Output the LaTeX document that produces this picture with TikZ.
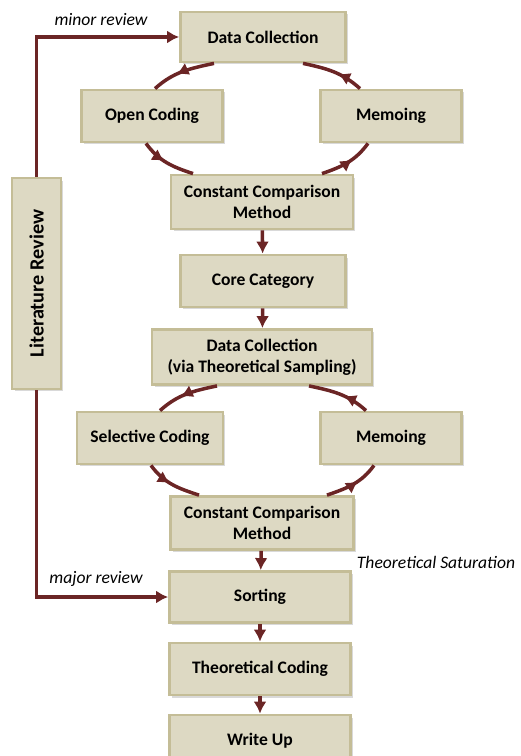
\documentclass[tikz,border=0pt]{standalone}
\usepackage{fontspec}
\setmainfont{Carlito}
\usetikzlibrary{arrows, arrows.meta}
\usetikzlibrary{calc}
\usetikzlibrary{shadows}
\usetikzlibrary{decorations.markings}
\definecolor{boxfill}{HTML}{DDD9C3}
\definecolor{boxline}{HTML}{C4BD97}
\definecolor{flow}{HTML}{6B2525}

\begin{document}
\begin{tikzpicture}[x=0.02cm, y=0.02cm,
    box/.style={rectangle, draw=boxline, line width=1.6pt, fill=boxfill, font=\bfseries, align=center, inner sep=2pt,
      drop shadow={shadow xshift=0.05cm, shadow yshift=-0.05cm, opacity=0.3}},
    flowline/.style={draw=flow, line width=2pt, -{Latex[length=2.4mm, width=2.6mm]}},
    loopline/.style={draw=flow, line width=2pt, postaction={decorate},
      decoration={markings, mark=at position #1 with {\arrow{Latex[length=2.4mm, width=2.6mm]}}}},
    loopline/.default=0.55,
    remark/.style={font=\itshape}]
    \useasboundingbox (0,0) rectangle (520,-756);

    \node[box, minimum width=3.3cm, minimum height=1cm] (dc1) at (263,-37) {Data Collection};
    \node[box, minimum width=2.82cm, minimum height=1.04cm] (oc) at (152,-116) {Open Coding};
    \node[box, minimum width=2.82cm, minimum height=1.04cm] (memo1) at (391,-116) {Memoing};
    \node[box, minimum width=3.64cm, minimum height=1.08cm] (ccm1) at (262,-202) {Constant Comparison\\Method};
    \node[box, minimum width=3.3cm, minimum height=1.04cm] (core) at (263,-281) {Core Category};
    \node[box, minimum width=4.4cm, minimum height=1.1cm] (dc2) at (262,-357) {Data Collection\\(via Theoretical Sampling)};
    \node[box, minimum width=2.92cm, minimum height=1.04cm] (sc) at (150,-438) {Selective Coding};
    \node[box, minimum width=2.82cm, minimum height=1.04cm] (memo2) at (391,-438) {Memoing};
    \node[box, minimum width=3.66cm, minimum height=1.06cm] (ccm2) at (262,-523) {Constant Comparison\\Method};
    \node[box, minimum width=3.62cm, minimum height=1.02cm] (sort) at (260,-597) {Sorting};
    \node[box, minimum width=3.62cm, minimum height=1.04cm] (tc) at (260,-669) {Theoretical Coding};
    \node[box, minimum width=3.62cm, minimum height=1.04cm] (wu) at (260,-741) {Write Up};
    \node[box, minimum width=0.98cm, minimum height=4.22cm, font=\bfseries\fontsize{11.5}{14}\selectfont] (lit) at (36.5,-283.5) {\rotatebox{90}{Literature Review}};

    \node[remark] (minor) at (101,-20) {minor review};
    \node[remark] (major) at (96,-579) {major review};
    \node[remark] (sat) at (436,-562) {Theoretical Saturation};

    % first loop
    \draw[loopline=0.6] ($(dc1.south)+(-49,0)$) to[out=192, in=42] ($(oc.north)+(3,0)$);
    \draw[loopline=0.45] ($(oc.south)+(-6,0)$) to[out=-54, in=162] ($(ccm1.north)+(-69,0)$);
    \draw[loopline=0.6] ($(ccm1.north)+(60,0)$) to[out=19, in=-126] ($(memo1.south)+(-23,0)$);
    \draw[loopline=0.42] ($(memo1.north)+(-31,0)$) to[out=138, in=-12] ($(dc1.south)+(40,0)$);

    % second loop
    \draw[loopline=0.6] ($(dc2.south)+(-45,0)$) to[out=192, in=42] ($(sc.north)+(10,0)$);
    \draw[loopline=0.45] ($(sc.south)+(1,0)$) to[out=-54, in=162] ($(ccm2.north)+(-63,0)$);
    \draw[loopline=0.6] ($(ccm2.north)+(65,0)$) to[out=19, in=-126] ($(memo2.south)+(-17,0)$);
    \draw[loopline=0.42] ($(memo2.north)+(-25,0)$) to[out=138, in=-12] ($(dc2.south)+(47,0)$);

    \draw[flowline] (ccm1) -- (core);
    \draw[flowline] (core) -- (dc2);
    \draw[flowline] (ccm2) -- (sort);
    \draw[flowline] (sort) -- (tc);
    \draw[flowline] (tc) -- (wu);

    \draw[flowline] (lit.north) |- (dc1.west);
    \draw[flowline] (lit.south) |- (sort.west);
\end{tikzpicture}
\end{document}
